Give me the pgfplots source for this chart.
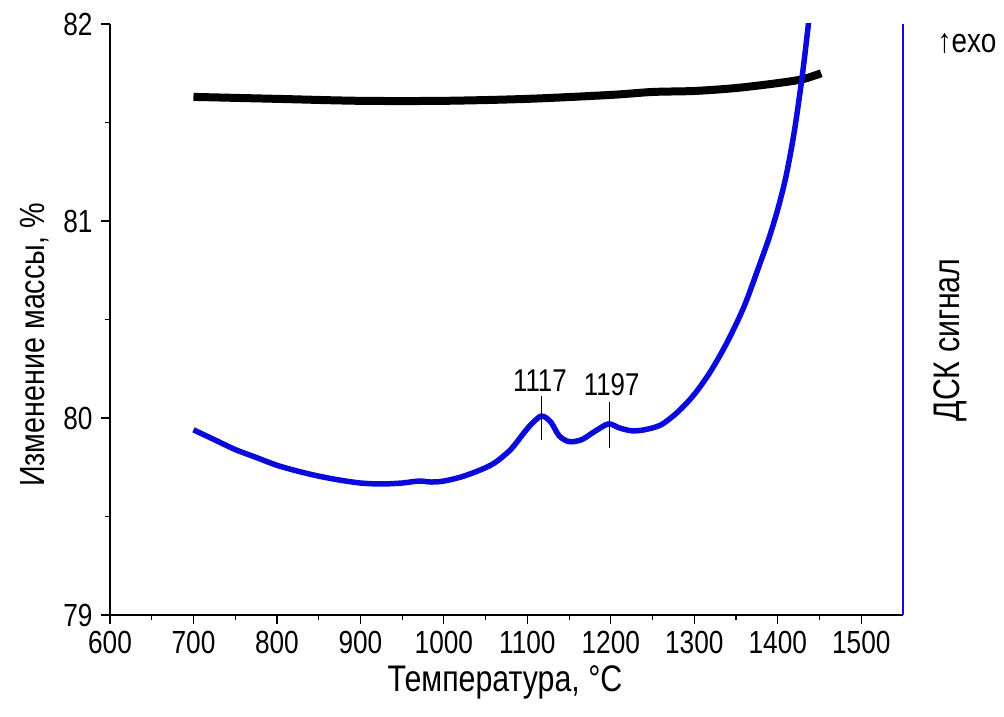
\documentclass[border=0pt]{standalone}
\usepackage{fontspec}
\setmainfont{Liberation Sans}[FakeStretch=0.82]
\usepackage{pgfplots}
\pgfplotsset{compat=1.18}
\definecolor{dsc}{RGB}{10,10,220}
\begin{document}
\begin{tikzpicture}[x=1pt,y=1pt]
\useasboundingbox (-110,-102) rectangle (894,615);
\begin{axis}[
  at={(0,0)}, anchor=south west,
  scale only axis, width=793pt, height=591pt,
  xmin=600, xmax=1550, ymin=79, ymax=82,
  axis x line*=bottom, axis y line*=left,
  axis line style={line width=1.2pt},
  xtick={600,700,...,1500}, minor xtick={650,750,...,1450},
  ytick={79,80,81,82}, minor ytick={79.5,80.5,81.5},
  tick align=outside, major tick length=9pt, minor tick length=5pt,
  tick style={line width=1.2pt, black},
  /pgf/number format/assume math mode=true,
  /pgf/number format/set thousands separator={},
  tick label style={font=\fontsize{32}{35}\selectfont},
  xticklabel style={yshift=-4pt},
  yticklabel style={xshift=-5pt},
  clip=true,
]
\addplot[black, line width=8pt, smooth] coordinates {
(700,81.63) (800,81.62) (900,81.61) (1000,81.61) (1100,81.62) (1200,81.64)
(1250,81.655) (1300,81.66) (1350,81.675) (1400,81.70) (1430,81.72) (1452,81.75)};
\addplot[dsc, line width=5.5pt, smooth] coordinates {
(700,79.94) (725,79.89) (750,79.84) (775,79.80) (800,79.76) (825,79.73)
(850,79.705) (875,79.685) (900,79.67) (925,79.665) (950,79.67) (970,79.68)
(985,79.675) (1000,79.68) (1020,79.70) (1040,79.73) (1060,79.77) (1080,79.84)
(1095,79.92) (1105,79.97) (1117,80.01) (1128,79.98) (1138,79.91) (1150,79.88)
(1165,79.89) (1180,79.93) (1197,79.97) (1210,79.95) (1225,79.935) (1240,79.94)
(1260,79.965) (1280,80.03) (1300,80.12) (1320,80.24) (1340,80.39) (1360,80.57)
(1380,80.80) (1390,80.92) (1400,81.06) (1410,81.23) (1420,81.46) (1430,81.76) (1438,82.05)};
\draw[black, line width=0.8pt] (axis cs:1117,79.89) -- (axis cs:1117,80.11);
\draw[black, line width=0.8pt] (axis cs:1198,79.85) -- (axis cs:1198,80.08);
\node[font=\fontsize{31.5}{34}\selectfont] at (axis cs:1115,80.19) {1117};
\node[font=\fontsize{31.5}{34}\selectfont] at (axis cs:1201,80.17) {1197};
\end{axis}
\draw[dsc, line width=1.5pt] (793,0) -- (793,591);
\node[rotate=90, font=\fontsize{35}{38}\selectfont] at (-75,270) {Изменение массы, \%};
\node[font=\fontsize{37}{40}\selectfont] at (395,-67) {Температура, °C};
\node[rotate=90, font=\fontsize{37}{40}\selectfont] at (840,275) {ДСК сигнал};
\node[font=\fontsize{34}{37}\selectfont] at (857,572) {↑exo};
\end{tikzpicture}
\end{document}
